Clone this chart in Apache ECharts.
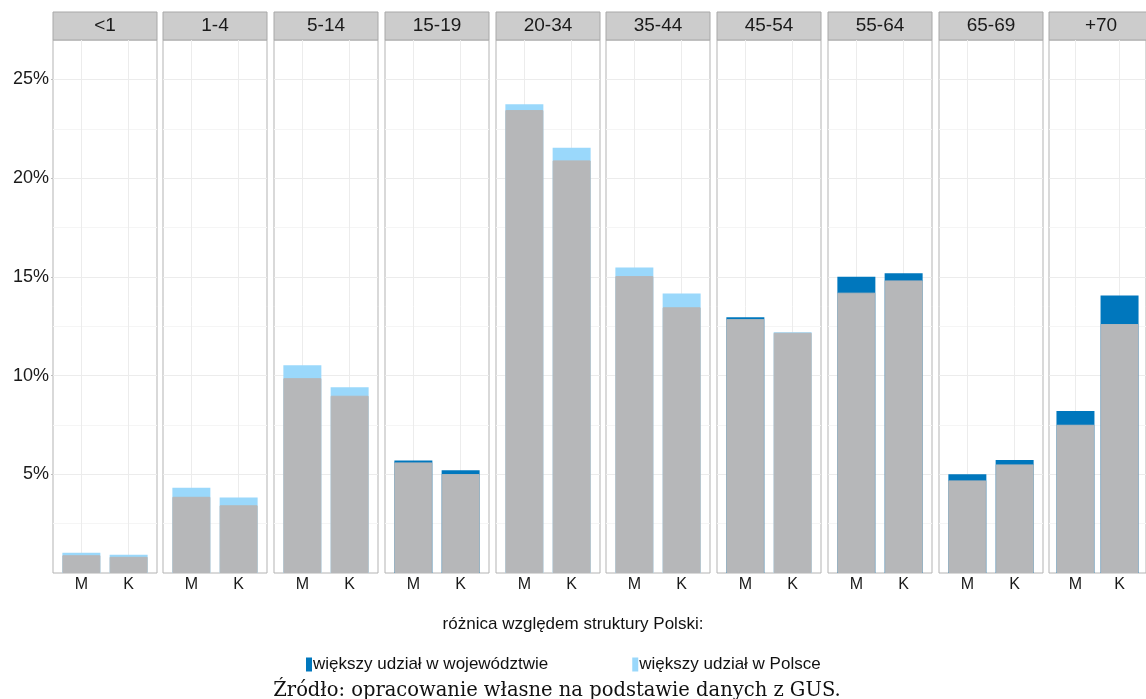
<!DOCTYPE html>
<html>
<head>
<meta charset="utf-8">
<script src="https://cdn.jsdelivr.net/npm/echarts@6/dist/echarts.min.js"></script>
<style>
  html, body { margin: 0; padding: 0; background: #fff; }
  #chart { width: 1146px; height: 699px; }
</style>
</head>
<body>
<div id="chart"></div>
<script>
// grupy wieku (panele) i płeć
var ages = ['<1', '1-4', '5-14', '15-19', '20-34', '35-44', '45-54', '55-64', '65-69', '+70']
var sexes = ['M', 'K']
// udział grupy w województwie / w Polsce (%)
var regionM = [0.90, 3.86, 9.87, 5.70, 23.45, 15.04, 12.96, 15.01, 5.00, 8.21]
var polandM = [1.03, 4.32, 10.52, 5.60, 23.74, 15.47, 12.86, 14.20, 4.69, 7.51]
var regionK = [0.82, 3.43, 8.98, 5.21, 20.90, 13.46, 12.17, 15.19, 5.73, 14.06]
var polandK = [0.93, 3.82, 9.41, 5.01, 21.54, 14.16, 12.20, 14.82, 5.50, 12.61]
var yTicks = [5, 10, 15, 20, 25]

var nameDark = 'większy udział w województwie'
var nameLight = 'większy udział w Polsce'
var font = 'Liberation Sans, Arial, sans-serif'

// układ paneli
var panelLeft = 52.7
var panelStep = 110.73
var panelWidth = 104
var panelTop = 40
var panelBottom = 126
var barWidth = 38

var grids = []
var xAxes = []
var yAxes = []
var series = []
var graphics = []

ages.forEach(function (age, i) {
  var left = Math.round(panelLeft + i * panelStep)
  grids.push({
    left: left,
    top: panelTop,
    width: panelWidth,
    bottom: panelBottom,
    show: true,
    borderColor: '#b3b3b3',
    borderWidth: 1,
    backgroundColor: '#fff'
  })
  xAxes.push({
    type: 'value',
    gridIndex: i,
    min: 0.4,
    max: 2.6,
    axisLine: { show: false },
    axisTick: { show: false, customValues: [1, 2] },
    axisLabel: {
      customValues: [1, 2],
      formatter: function (v) { return sexes[Math.round(v) - 1] },
      color: '#1a1a1a',
      fontSize: 16,
      fontFamily: font,
      margin: 4
    },
    splitLine: { show: true, lineStyle: { color: '#ececec', width: 1 } }
  })
  yAxes.push({
    type: 'value',
    gridIndex: i,
    min: 0,
    max: 27,
    interval: 5,
    axisLine: { show: false },
    axisTick: { show: i === 0, customValues: yTicks, length: 2, lineStyle: { color: '#bdbdbd' } },
    axisLabel: {
      show: i === 0,
      customValues: yTicks,
      formatter: '{value}%',
      color: '#1a1a1a',
      fontSize: 18,
      fontFamily: font,
      margin: 4
    },
    splitLine: { show: true, lineStyle: { color: '#ececec', width: 1 } },
    minorTick: { show: false, splitNumber: 2 },
    minorSplitLine: { show: true, lineStyle: { color: '#f5f5f5', width: 1 } }
  })

  // pełny słupek = większa z dwóch wartości, szary = część wspólna
  var reg = [regionM[i], regionK[i]]
  var pol = [polandM[i], polandK[i]]
  var base = [], dark = [], light = []
  for (var j = 0; j < 2; j++) {
    base.push([j + 1, Math.min(reg[j], pol[j])])
    dark.push([j + 1, reg[j] > pol[j] ? reg[j] : '-'])
    light.push([j + 1, pol[j] >= reg[j] ? pol[j] : '-'])
  }
  var common = { type: 'bar', xAxisIndex: i, yAxisIndex: i, barWidth: barWidth, barGap: '-100%', silent: true }
  series.push(Object.assign({ name: nameDark, data: dark, itemStyle: { color: '#0077bd' } }, common))
  series.push(Object.assign({ name: nameLight, data: light, itemStyle: { color: '#9ad8fb' } }, common))
  series.push(Object.assign({ name: 'wspólne', data: base, itemStyle: { color: '#b6b7b9', borderColor: '#b6b7b9', borderWidth: 1 } }, common))

  // nagłówek panelu
  graphics.push({
    type: 'rect',
    shape: { x: left, y: 12, width: panelWidth, height: 28 },
    style: { fill: '#cccccc', stroke: '#a8a8a8', lineWidth: 1 }
  })
  graphics.push({
    type: 'text',
    x: left + panelWidth / 2,
    y: 26,
    style: {
      text: age, fill: '#1a1a1a', font: '19px ' + font,
      textAlign: 'center', textVerticalAlign: 'middle'
    }
  })
})

graphics.push({
  type: 'text',
  x: 557,
  y: 691,
  style: {
    text: 'Źródło: opracowanie własne na podstawie danych z GUS.',
    fill: '#111', font: '19.5px DejaVu Serif, serif',
    textAlign: 'center', textVerticalAlign: 'middle'
  }
})

var chart = echarts.init(document.getElementById('chart'))
chart.setOption({
  animation: false,
  title: {
    text: 'różnica względem struktury Polski:',
    left: 'center',
    top: 611,
    textStyle: { fontSize: 17, fontWeight: 'normal', color: '#111', fontFamily: font }
  },
  legend: {
    data: [nameDark, nameLight],
    left: 301,
    top: 651,
    icon: 'rect',
    itemWidth: 6,
    itemHeight: 14,
    itemGap: 84,
    textStyle: { fontSize: 17, color: '#111', fontFamily: font, padding: [0, 0, 0, -4] }
  },
  grid: grids,
  xAxis: xAxes,
  yAxis: yAxes,
  series: series,
  graphic: graphics
})
</script>
</body>
</html>
